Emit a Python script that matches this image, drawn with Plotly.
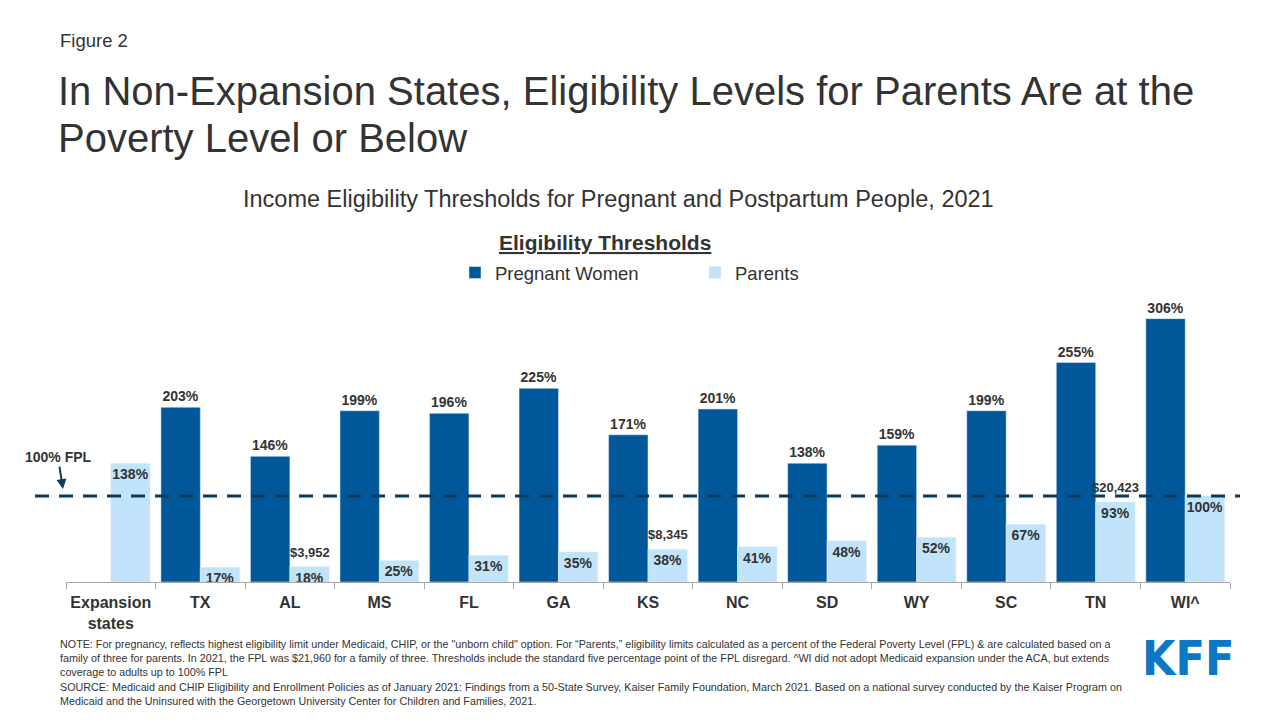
import plotly.graph_objects as go

# ---------------- data ----------------
categories = ["Expansion<br>states", "TX", "AL", "MS", "FL", "GA", "KS", "NC",
              "SD", "WY", "SC", "TN", "WI^"]
pregnant_women = [None, 203, 146, 199, 196, 225, 171, 201, 138, 159, 199, 255, 306]
parents = [138, 17, 18, 25, 31, 35, 38, 41, 48, 52, 67, 93, 100]
dollar_categories = ["AL", "KS", "TN"]
dollar_labels = ["$3,952", "$8,345", "$20,423"]
dollar_values = [18, 38, 93]
FPL_LINE = 100
Y_MAX = 330

# ---------------- style ----------------
FONT = "Liberation Sans, Arial, sans-serif"
DARK = "#333333"
BLUE = "#00579A"
LIGHT = "#C1E4FA"
LINE = "#0B3A5C"

OFF = 8  # page body margin offset
W, H = 1280, 720
L, R, T, B = 66 - OFF, 58, 298 - OFF, 720 - (582 - OFF)
PW, PH = W - L - R, H - T - B


def px_x(x):
    return (x - OFF - L) / PW


def px_y(y):
    return (H - B - (y - OFF)) / PH


fig = go.Figure()
fig.add_trace(go.Bar(
    name="Pregnant Women", x=categories, y=pregnant_women,
    marker_color=BLUE,
    text=[f"{v}%" if v is not None else "" for v in pregnant_women],
    textposition="outside", textangle=0,
    textfont=dict(family=FONT, size=14, color=DARK, weight="bold"),
    cliponaxis=False,
))
fig.add_trace(go.Bar(
    name="Parents", x=categories, y=parents,
    marker_color=LIGHT,
    text=[f"{v}%" for v in parents],
    textposition="inside", insidetextanchor="end", textangle=0,
    textfont=dict(family=FONT, size=14, color=DARK, weight="bold"),
    cliponaxis=False,
))

# 100% FPL dashed line
fig.add_shape(type="line", xref="paper", yref="paper",
              x0=px_x(35), x1=px_x(1240),
              y0=FPL_LINE / Y_MAX, y1=FPL_LINE / Y_MAX,
              line=dict(color=LINE, width=3, dash="14px,10px"), layer="above")

annotations = []
# FPL label with arrow
annotations.append(dict(
    xref="paper", yref="y", x=px_x(63), y=FPL_LINE + 8,
    text="<b>100% FPL</b>", showarrow=True, ax=-5, ay=-32,
    arrowhead=2, arrowsize=1, arrowwidth=2, arrowcolor=LINE, standoff=0,
    font=dict(family=FONT, size=14, color=DARK)))

# dollar labels above the parents bars
for c, lab, v in zip(dollar_categories, dollar_labels, dollar_values):
    annotations.append(dict(
        x=c, y=v, xref="x", yref="y", text=f"<b>{lab}</b>", showarrow=False,
        xshift=20, yshift=5, yanchor="bottom",
        font=dict(family=FONT, size=13, color=DARK)))

annotations += [
    dict(xref="paper", yref="paper", x=px_x(58), y=px_y(40), xanchor="left",
         yanchor="middle", text="Figure 2", showarrow=False,
         font=dict(family=FONT, size=18.5, color=DARK)),
    dict(xref="paper", yref="paper", x=px_x(56), y=px_y(91), xanchor="left",
         yanchor="middle", showarrow=False,
         text="In Non-Expansion States, Eligibility Levels for Parents Are at the",
         font=dict(family=FONT, size=40, color=DARK)),
    dict(xref="paper", yref="paper", x=px_x(56), y=px_y(138), xanchor="left",
         yanchor="middle", showarrow=False,
         text="Poverty Level or Below",
         font=dict(family=FONT, size=40, color=DARK)),
    dict(xref="paper", yref="paper", x=px_x(618), y=px_y(199), xanchor="center",
         yanchor="middle",
         text="Income Eligibility Thresholds for Pregnant and Postpartum People, 2021",
         showarrow=False, font=dict(family=FONT, size=23.5, color=DARK)),
    dict(xref="paper", yref="paper", x=px_x(605), y=px_y(243), xanchor="center",
         yanchor="middle", text="<b><u>Eligibility Thresholds</u></b>",
         showarrow=False, font=dict(family=FONT, size=21, color=DARK)),
    dict(xref="paper", yref="paper", x=px_x(58), y=px_y(636), xanchor="left",
         yanchor="top", align="left", showarrow=False,
         text=("NOTE: For pregnancy, reflects highest eligibility limit under Medicaid, CHIP, or the \"unborn child\" option. "
               "For \u201cParents,\u201d eligibility limits calculated as a percent of the Federal Poverty Level (FPL) &amp; are calculated based on a<br>"
               "family of three for parents. In 2021, the FPL was $21,960 for a family of three. Thresholds include the standard five "
               "percentage point of the FPL disregard. ^WI did not adopt Medicaid expansion under the ACA, but extends<br>"
               "coverage to adults up to 100% FPL"),
         font=dict(family=FONT, size=10.75, color=DARK)),
    dict(xref="paper", yref="paper", x=px_x(58), y=px_y(679), xanchor="left",
         yanchor="top", align="left", showarrow=False,
         text=("SOURCE: Medicaid and CHIP Eligibility and Enrollment Policies as of January 2021: Findings from a 50-State Survey, "
               "Kaiser Family Foundation, March 2021. Based on a national survey conducted by the Kaiser Program on<br>"
               "Medicaid and the Uninsured with the Georgetown University Center for Children and Families, 2021."),
         font=dict(family=FONT, size=10.75, color=DARK)),
    dict(xref="paper", yref="paper", x=px_x(1188), y=px_y(658), xanchor="center",
         yanchor="middle", text="<b>KFF</b>", showarrow=False,
         font=dict(family="DejaVu Sans Condensed, Liberation Sans Narrow, Liberation Sans",
                   size=48, color="#0A78C6")),
]

fig.update_layout(
    width=W, height=H,
    margin=dict(l=L, r=R, t=T, b=B, autoexpand=False),
    paper_bgcolor="white", plot_bgcolor="white",
    barmode="group", bargap=0.12, bargroupgap=0, barcornerradius=0,
    uniformtext=dict(mode=False),
    legend=dict(orientation="h", x=px_x(695), xanchor="center", y=px_y(273),
                yanchor="middle", font=dict(family=FONT, size=18.5, color=DARK),
                itemclick=False, bgcolor="rgba(0,0,0,0)", traceorder="normal",
                itemwidth=30, entrywidth=195),
    xaxis=dict(type="category", showline=True, linecolor="#A6A6A6", linewidth=1,
               ticks="outside", tickson="boundaries", ticklen=6, tickcolor="#A6A6A6",
               tickangle=0, ticklabelstandoff=6,
               tickfont=dict(family=FONT, size=16, color=DARK, weight="bold"),
               showgrid=False, fixedrange=True),
    yaxis=dict(range=[0, Y_MAX], visible=False, showgrid=False, fixedrange=True),
    annotations=annotations,
    font=dict(family=FONT),
)
fig.update_traces(constraintext="none")

fig.write_html("out.html")
